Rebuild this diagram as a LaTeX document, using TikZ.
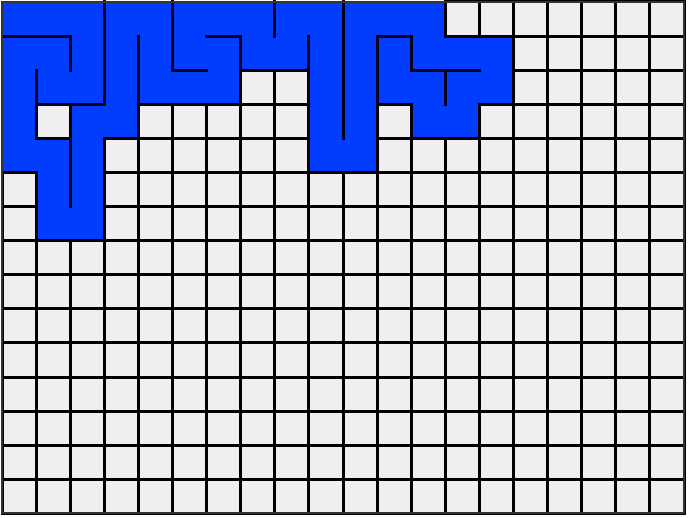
\documentclass[tikz,border=0pt]{standalone}
\usepackage{tikz}
\definecolor{cellblue}{RGB}{2,60,252}
\definecolor{cellgrey}{RGB}{240,238,240}
\tikzset{
  gridline/.style={line width=3pt, draw=black},
  wall/.style={line width=3pt, draw=black!88!blue, line cap=rect},
}
\begin{document}
\begin{tikzpicture}[x=1pt,y=-1pt]
\useasboundingbox (0,0) rectangle (689,518);
\begin{scope}[shift={(2pt,-2pt)}, x=34.1pt, y=-34.1pt]
  % background
  \fill[cellgrey] (0,0) rectangle (20,15);
  % blue cells
  \foreach \r/\cs in {0/{0,...,12}, 1/{0,...,14}, 2/{0,...,6,9,10,11,12,13,14},
                      3/{0,2,3,9,10,12,13}, 4/{0,1,2,9,10}, 5/{1,2}, 6/{1,2}}{
    \foreach \c in \cs { \fill[cellblue] (\c,\r) rectangle +(1,1); }
  }
  % grey cells with borders
  \foreach \r/\cs in {0/{13,...,19}, 1/{15,...,19}, 2/{7,8,15,16,17,18,19},
                      3/{1,4,5,6,7,8,11,14,15,16,17,18,19}, 4/{3,...,8,11,12,...,19},
                      5/{0,3,4,...,19}, 6/{0,3,4,...,19}}{
    \foreach \c in \cs { \draw[gridline] (\c,\r) rectangle +(1,1); }
  }
  \foreach \r in {7,...,14}{
    \foreach \c in {0,...,19}{ \draw[gridline] (\c,\r) rectangle +(1,1); }
  }
  % interior walls (vertical: x, y1, y2)
  \foreach \k/\a/\b in {2/1/2, 1/2/4, 3/0/3, 4/1/4, 2/4/6, 5/0/2, 7/1/2, 8/0/1,
                        9/1/2, 10/0/4, 11/1/3, 12/1/2, 13/2/3}{
    \draw[wall] (\k,\a) -- (\k,\b);
  }
  % interior walls (horizontal: y, x1, x2)
  \foreach \k/\a/\b in {1/0/2, 3/1/3, 2/5/6, 1/6/7, 1/11/12, 2/12/14}{
    \draw[wall] (\a,\k) -- (\b,\k);
  }
  % outer border
  \draw[line width=2pt, draw=black!80] (0,0) rectangle (20,15);
\end{scope}
\end{tikzpicture}
\end{document}
